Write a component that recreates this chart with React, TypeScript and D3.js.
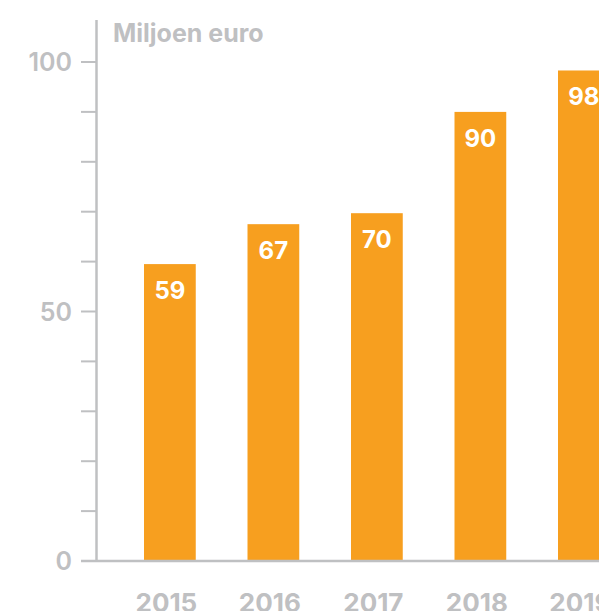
import React from "react";
import * as d3 from "d3";

const years = ["2015", "2016", "2017", "2018", "2019"];
const values = [59.5, 67.5, 69.7, 90, 98.3];
const labels = ["59", "67", "70", "90", "98"];
const majorTicks = [0, 50, 100];
const minorTicks = [10, 20, 30, 40, 60, 70, 80, 90];
const unitLabel = "Miljoen euro";

const W = 599;
const H = 611;
const GREY = "#bfc0c2";
const ORANGE = "#f79f1f";
const FONT = "Inter, 'Noto Sans', sans-serif";

export default function App() {
  const x = d3.scaleBand<string>().domain(years).range([92.25, 661.5]).padding(0.5);
  const y = d3.scaleLinear().domain([0, 100]).range([561, 62]);
  const axisX = 96.5;

  return (
    <svg width={W} height={H} style={{ position: "absolute", left: 0, top: 0 }}>
      <rect width={W} height={H} fill="#fff" />
      {years.map((yr, i) => {
        const cx = (x(yr) as number) + x.bandwidth() / 2;
        return (
          <g key={yr}>
            <rect x={x(yr)} y={y(values[i])} width={x.bandwidth()} height={y(0) - y(values[i])} fill={ORANGE} />
            <text x={cx} y={y(values[i]) + 35} textAnchor="middle" fill="#fff" fontFamily={FONT} fontWeight={700} fontSize={24}>
              {labels[i]}
            </text>
            <text x={cx - 3.5} y={612} textAnchor="middle" fill={GREY} fontFamily={FONT} fontWeight={700} fontSize={26}>
              {yr}
            </text>
          </g>
        );
      })}
      <line x1={axisX} x2={axisX} y1={20} y2={562} stroke={GREY} strokeWidth={2.5} />
      {minorTicks.concat(majorTicks).map((t) => (
        <line key={"t" + t} x1={81} x2={axisX} y1={y(t)} y2={y(t)} stroke={GREY} strokeWidth={2} />
      ))}
      {majorTicks.map((t) => (
        <text key={"l" + t} x={72} y={y(t) + 9} textAnchor="end" fill={GREY} fontFamily={FONT} fontWeight={600} fontSize={25}>
          {t}
        </text>
      ))}
      <line x1={81} x2={W} y1={y(0)} y2={y(0)} stroke={GREY} strokeWidth={2.5} />
      <text x={113} y={42} fill={GREY} fontFamily={FONT} fontWeight={700} fontSize={25}>
        {unitLabel}
      </text>
    </svg>
  );
}
